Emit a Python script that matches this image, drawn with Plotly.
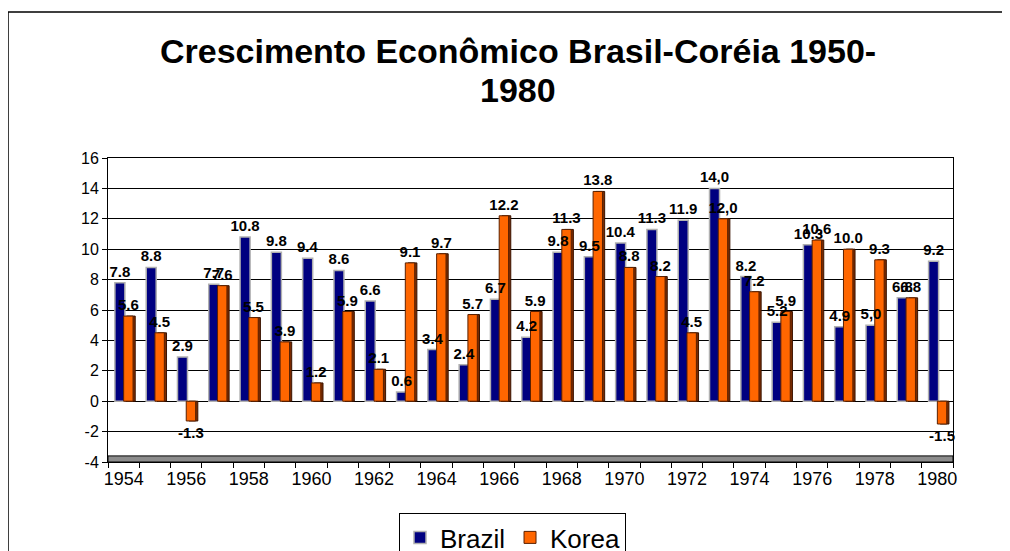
import plotly.graph_objects as go

years = list(range(1954, 1981))
brazil = [7.8, 8.8, 2.9, 7.7, 10.8, 9.8, 9.4, 8.6, 6.6, 0.6, 3.4, 2.4, 6.7, 4.2,
          9.8, 9.5, 10.4, 11.3, 11.9, 14.0, 8.2, 5.2, 10.3, 4.9, 5.0, 6.8, 9.2]
korea = [5.6, 4.5, -1.3, 7.6, 5.5, 3.9, 1.2, 5.9, 2.1, 9.1, 9.7, 5.7, 12.2, 5.9,
         11.3, 13.8, 8.8, 8.2, 4.5, 12.0, 7.2, 5.9, 10.6, 10.0, 9.3, 6.8, -1.5]
brazil_labels = [f"{v:.1f}" for v in brazil]
brazil_labels[19] = "14,0"
brazil_labels[24] = "5,0"
korea_labels = [f"{v:.1f}" for v in korea]
korea_labels[19] = "12,0"
y_ticks = list(range(-4, 17, 2))

# page is drawn with an 8px body margin, so figure px = page px - 8
W, H = 1010, 551
L, R, T, B = 100, 65, 150, 97
pw, ph = W - L - R, H - T - B

def px(x):
	return (x - L) / pw

def py(y):
	return (H - B - y) / ph

label_font = dict(family="Liberation Sans", size=15, color="black", weight="bold")

fig = go.Figure()
fig.add_trace(go.Bar(
	x=years, y=brazil, name="Brazil", offset=-0.28, width=0.32,
	marker=dict(color="#000080", line=dict(color="#b0b0b0", width=1.5)),
))
# dark side of the orange bars (3D look)
fig.add_trace(go.Bar(
	x=years, y=korea, name="Korea side", showlegend=False, hoverinfo="skip",
	offset=0.09, width=0.28,
	marker=dict(color="#7a2a00", line=dict(color="#3a1400", width=1)),
))
fig.add_trace(go.Bar(
	x=years, y=korea, name="Korea", offset=0.0, width=0.3,
	marker=dict(color="#ff6600", line=dict(color="#5a2000", width=1)),
))
# value labels on top of all bars
for vals, labels, off, wd in [(brazil, brazil_labels, -0.28, 0.32),
                              (korea, korea_labels, 0.0, 0.3)]:
	fig.add_trace(go.Bar(
		x=years, y=vals, text=labels, offset=off, width=wd,
		showlegend=False, hoverinfo="skip",
		marker=dict(color="rgba(0,0,0,0)", line=dict(width=0)),
		textposition="outside", constraintext="none", cliponaxis=False,
		textfont=label_font,
	))

# grey floor of the 3D plot
fig.add_shape(type="rect", xref="paper", yref="y",
	x0=0, x1=1, y0=-4, y1=-3.6,
	line=dict(color="black", width=1), fillcolor="#8c8c8c", layer="above")

# outer chart frame
fig.add_shape(type="rect", xref="paper", yref="paper",
	x0=px(0), x1=px(W + 5), y0=py(H + 5), y1=py(4),
	line=dict(color="black", width=1.5), fillcolor="rgba(0,0,0,0)", layer="below")

fig.add_annotation(text="<b>Crescimento Econômico Brasil-Coréia 1950-</b>",
	xref="paper", yref="paper", x=px(510), y=py(43),
	xanchor="center", yanchor="middle", showarrow=False,
	font=dict(size=34, family="Liberation Sans"))
fig.add_annotation(text="<b>1980</b>",
	xref="paper", yref="paper", x=px(510), y=py(82),
	xanchor="center", yanchor="middle", showarrow=False,
	font=dict(size=34, family="Liberation Sans"))

fig.update_layout(
	width=W, height=H,
	margin=dict(l=L, r=R, t=T, b=B, autoexpand=False),
	paper_bgcolor="white", plot_bgcolor="white",
	font=dict(family="Liberation Sans", color="black"),
	barmode="overlay",
	showlegend=True,
	legend=dict(
		orientation="h", x=px(391), xanchor="left",
		y=py(505), yanchor="top",
		font=dict(size=26), bordercolor="black", borderwidth=1,
		bgcolor="white", itemwidth=30,
	),
	xaxis=dict(
		range=[1953.5, 1980.5], tick0=1954, dtick=2,
		showline=True, linecolor="black", linewidth=1, mirror=True,
		showgrid=False, zeroline=False, ticks="",
		minor=dict(ticks="outside", tick0=1953.5, dtick=1, ticklen=5,
			tickcolor="black", showgrid=False),
		tickfont=dict(size=18),
	),
	yaxis=dict(
		range=[-4, 16], tickvals=y_ticks, ticktext=[str(v) for v in y_ticks],
		showline=True, linecolor="black", linewidth=1, mirror=True,
		showgrid=True, gridcolor="black", gridwidth=1,
		zeroline=True, zerolinecolor="black", zerolinewidth=1,
		ticks="outside", ticklen=5, tickcolor="black",
		tickfont=dict(size=16),
	),
)

fig.write_html("out.html")
